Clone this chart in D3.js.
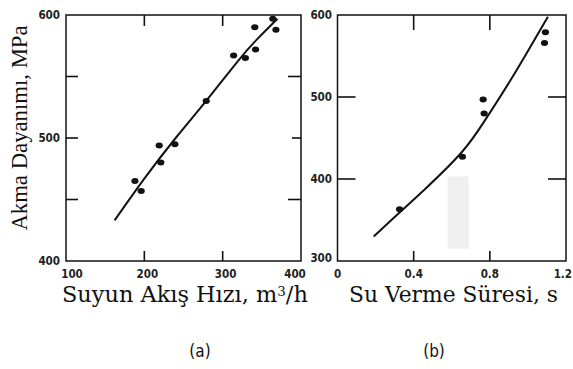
<!DOCTYPE html>
<html>
<head>
<meta charset="utf-8">
<script src="https://cdn.jsdelivr.net/npm/d3@7"></script>
<style>
  html, body { margin: 0; padding: 0; background: #fff; }
  svg { display: block; }
  .tick-lbl { font-family: "DejaVu Sans Condensed", "DejaVu Sans", sans-serif; font-stretch: condensed; font-size: 11.5px; font-weight: bold; fill: #222; }
  .ax-title { fill: #111; }
  .panel-lbl { font-family: "DejaVu Sans Condensed", "DejaVu Sans", sans-serif; font-stretch: condensed; font-size: 17px; fill: #111; }
</style>
</head>
<body>
<div id="chart"></div>
<script>
// ── Panel (a): flow rate vs yield strength ─────────────────────
const flowPts = [
  [188, 465], [196, 457], [219, 494], [221, 480], [239, 495], [279, 530],
  [314, 567], [329, 565], [341, 590], [342, 572], [364, 597], [368, 588]
];
const flowCurve = [
  [162, 433], [200, 467], [240, 500], [280, 531], [320, 563], [345, 581], [370, 597]
];
const flowXTicks = [100, 200, 300, 400];
const flowYTicks = [400, 500, 600];

// ── Panel (b): quench time vs yield strength ──────────────────
const timePts = [
  [0.326, 363], [0.656, 427], [0.765, 497], [0.770, 480], [1.092, 579], [1.087, 566]
];
const timeCurve = [
  [0.19, 330], [0.33, 360], [0.47, 390], [0.65, 432], [0.77, 470], [0.91, 521], [1.03, 568], [1.105, 598]
];
const timeXTicks = [0, 0.4, 0.8, 1.2];
const timeXLabels = ["0", "0.4", "0.8", "1.2"];
const timeYTicks = [300, 400, 500, 600];

const W = 573, H = 369;
const svg = d3.select("#chart").append("svg").attr("width", W).attr("height", H);

function frame(x, y, o) {
  const g = svg.append("g");
  const [x0, x1] = x.range(), [y0, y1] = y.range();
  // inward ticks on all four sides
  o.leftTicks.forEach(([v, len]) => g.append("line").attr("x1", x0).attr("x2", x0 + len).attr("y1", y(v)).attr("y2", y(v)));
  o.rightTicks.forEach(([v, len]) => g.append("line").attr("x1", x1).attr("x2", x1 - len).attr("y1", y(v)).attr("y2", y(v)));
  o.topTicks.forEach(([v, len]) => g.append("line").attr("x1", x(v)).attr("x2", x(v)).attr("y1", y1).attr("y2", y1 + len));
  o.botTicks.forEach(([v, len]) => g.append("line").attr("x1", x(v)).attr("x2", x(v)).attr("y1", y0).attr("y2", y0 - len));
  g.selectAll("line").attr("stroke", "#111").attr("stroke-width", 1.6);
  g.append("rect").attr("x", x0).attr("y", y1).attr("width", x1 - x0).attr("height", y0 - y1)
    .attr("fill", "none").attr("stroke", "#111").attr("stroke-width", 1.5);
}

function dots(pts, x, y) {
  svg.append("g").selectAll("ellipse").data(pts).enter().append("ellipse")
    .attr("cx", d => x(d[0])).attr("cy", d => y(d[1]))
    .attr("rx", 3.6).attr("ry", 3).attr("fill", "#111");
}

function curve(pts, x, y) {
  svg.append("path").datum(pts)
    .attr("d", d3.line().x(d => x(d[0])).y(d => y(d[1])).curve(d3.curveNatural))
    .attr("fill", "none").attr("stroke", "#111").attr("stroke-width", 2);
}

// scale a title's font so it spans the wanted width
function fitWidth(sel, base, width) {
  const w = sel.node().getBBox().width;
  sel.attr("font-size", base * width / w);
}

// ── (a) ──
const xa = d3.scaleLinear().domain([100, 400]).range([66, 301]);
const ya = d3.scaleLinear().domain([400, 600]).range([261, 15]);

frame(xa, ya, {
  leftTicks: [[550, 12], [500, 12], [450, 12]],
  rightTicks: [[550, 13], [500, 9], [450, 13]],
  topTicks: [[200, 11], [300, 11]],
  botTicks: [[200, 10], [300, 10]]
});
curve(flowCurve, xa, ya);
dots(flowPts, xa, ya);

svg.append("g").selectAll("text").data(flowYTicks).enter().append("text")
  .attr("class", "tick-lbl").attr("x", 60).attr("y", d => ya(d) + 4)
  .attr("text-anchor", "end").text(d => d);
svg.append("g").selectAll("text").data(flowXTicks).enter().append("text")
  .attr("class", "tick-lbl").attr("x", d => xa(d) + (d === 100 ? 6 : d === 400 ? -6 : 3)).attr("y", 278)
  .attr("text-anchor", "middle").text(d => d);

const tA = svg.append("text").attr("class", "ax-title").attr("x", 62).attr("y", 302)
  .attr("font-family", "'DejaVu Serif', serif").attr("font-size", 19);
tA.append("tspan").text("Suyun Akış Hızı, m");
tA.append("tspan").attr("font-size", "0.6em").attr("dy", "-0.45em").text("3");
tA.append("tspan").attr("dy", "0.27em").text("/h");
fitWidth(tA, 19, 246);

const tY = svg.append("text").attr("class", "ax-title")
  .attr("transform", "translate(27,128) rotate(-90)")
  .attr("font-family", "'Liberation Serif', 'Times New Roman', serif")
  .attr("text-anchor", "middle").attr("font-size", 21).text("Akma Dayanımı, MPa");
fitWidth(tY, 21, 206);

// ── (b) ──
const xb = d3.scaleLinear().domain([0, 1.2]).range([337.5, 566]);
const yb = d3.scaleLinear().domain([300, 600]).range([261, 15]);

// faint scan artifact in the original
svg.append("rect").attr("x", xb(0.578)).attr("y", yb(403)).attr("width", xb(0.689) - xb(0.578))
  .attr("height", yb(315) - yb(403)).attr("fill", "#efefef");

frame(xb, yb, {
  leftTicks: [[500, 18], [400, 18]],
  rightTicks: [[500, 18], [400, 18]],
  topTicks: [[0.4, 15], [0.8, 15]],
  botTicks: [[0.4, 10], [0.8, 10]]
});
curve(timeCurve, xb, yb);
dots(timePts, xb, yb);

svg.append("g").selectAll("text").data(timeYTicks).enter().append("text")
  .attr("class", "tick-lbl").attr("x", 332).attr("y", d => yb(d) + (d === 300 ? 1 : 4))
  .attr("text-anchor", "end").text(d => d);
svg.append("g").selectAll("text").data(timeXTicks).enter().append("text")
  .attr("class", "tick-lbl").attr("x", d => d === 1.2 ? 572 : xb(d)).attr("y", 278)
  .attr("text-anchor", d => d === 1.2 ? "end" : "middle").text((d, i) => timeXLabels[i]);

const tB = svg.append("text").attr("class", "ax-title").attr("x", 349).attr("y", 302)
  .attr("font-family", "'DejaVu Serif', serif").attr("font-size", 19).text("Su Verme Süresi, s");
fitWidth(tB, 19, 209);

// panel labels
svg.append("text").attr("class", "panel-lbl").attr("x", 200).attr("y", 357).attr("text-anchor", "middle").text("(a)");
svg.append("text").attr("class", "panel-lbl").attr("x", 434).attr("y", 357).attr("text-anchor", "middle").text("(b)");
</script>
</body>
</html>
